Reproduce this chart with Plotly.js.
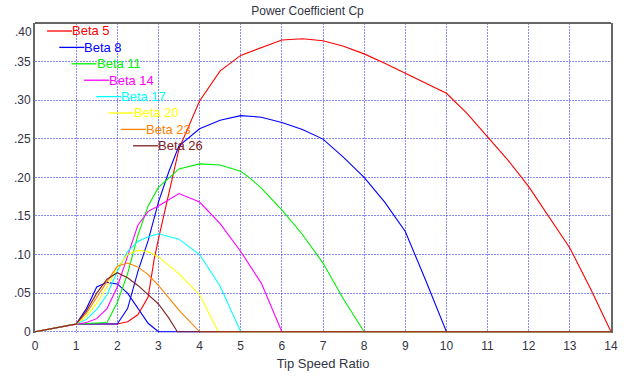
<!DOCTYPE html>
<html>
<head>
<meta charset="utf-8">
<script src="https://cdn.plot.ly/plotly-3.0.1.min.js"></script>
<style>html,body{margin:0;padding:0;background:#fff;}#chart{width:634px;height:376px;}</style>
</head>
<body>
<div id="chart"></div>
<script>
// ---- Data ----
const seriesNames = ["Beta 5", "Beta 8", "Beta 11", "Beta 14", "Beta 17", "Beta 20", "Beta 23", "Beta 26"];
const seriesColors = ["#ff0000", "#0000ff", "#00f000", "#ff00ff", "#00ffff", "#ffff00", "#ff8000", "#802020"];

const tsrBeta5 = [0, 1, 1.5, 2, 2.25, 2.5, 2.75, 2.9, 3, 3.25, 3.5, 4, 4.5, 5, 5.5, 6, 6.5, 7, 7.5, 8, 8.5, 9, 9.5, 10, 10.5, 11, 11.5, 12, 12.5, 13, 13.5, 14];
const cpBeta5  = [0, 0.01, 0.01, 0.01, 0.013, 0.022, 0.045, 0.095, 0.12, 0.178, 0.237, 0.299, 0.338, 0.358, 0.368, 0.378, 0.3795, 0.377, 0.37, 0.36, 0.348, 0.335, 0.322, 0.309, 0.283, 0.252, 0.222, 0.188, 0.148, 0.1085, 0.056, 0];

const tsrBeta8 = [0, 1, 2, 2.25, 2.5, 2.75, 3, 3.25, 3.5, 4, 4.5, 5, 5.5, 6, 6.5, 7, 7.5, 8, 8.5, 9, 9.5, 10, 14];
const cpBeta8  = [0, 0.01, 0.01, 0.03, 0.078, 0.118, 0.168, 0.207, 0.241, 0.263, 0.274, 0.28, 0.278, 0.271, 0.262, 0.2496, 0.226, 0.2, 0.168, 0.13, 0.066, 0, 0];

const tsrBeta11 = [0, 1, 1.75, 2, 2.25, 2.5, 2.75, 3, 3.5, 4, 4.5, 5, 5.25, 5.5, 6, 6.5, 7, 7.5, 8, 14];
const cpBeta11  = [0, 0.01, 0.012, 0.038, 0.075, 0.125, 0.163, 0.187, 0.211, 0.2175, 0.216, 0.208, 0.198, 0.186, 0.158, 0.126, 0.089, 0.042, 0, 0];

const tsrBeta14 = [0, 1, 1.25, 1.5, 1.75, 2, 2.25, 2.5, 2.75, 3, 3.5, 4, 4.5, 5, 5.5, 6, 14];
const cpBeta14  = [0, 0.01, 0.012, 0.017, 0.03, 0.058, 0.097, 0.138, 0.156, 0.163, 0.179, 0.168, 0.14, 0.104, 0.063, 0, 0];

const tsrBeta17 = [0, 1, 1.25, 1.5, 1.75, 2, 2.25, 2.5, 2.75, 3, 3.5, 4, 4.5, 5, 14];
const cpBeta17  = [0, 0.01, 0.016, 0.029, 0.048, 0.078, 0.104, 0.117, 0.123, 0.127, 0.12, 0.1, 0.059, 0, 0];

const tsrBeta20 = [0, 1, 1.25, 1.5, 1.75, 2, 2.25, 2.5, 2.75, 3, 3.5, 4, 4.46, 14];
const cpBeta20  = [0, 0.01, 0.02, 0.037, 0.058, 0.083, 0.1, 0.1055, 0.104, 0.097, 0.075, 0.048, 0, 0];

const tsrBeta23 = [0, 1, 1.25, 1.5, 1.75, 2, 2.25, 2.5, 2.75, 3, 3.5, 4, 14];
const cpBeta23  = [0, 0.01, 0.024, 0.045, 0.065, 0.085, 0.089, 0.084, 0.074, 0.06, 0.028, 0, 0];

const tsrBeta26 = [0, 1, 1.25, 1.5, 1.75, 2, 2.25, 2.5, 2.75, 3, 3.25, 3.46, 14];
const cpBeta26  = [0, 0.01, 0.027, 0.05, 0.068, 0.0765, 0.07, 0.06, 0.048, 0.036, 0.018, 0, 0];

// extra unlabeled blue curve (colour cycle wrap)
const tsrExtra = [0, 1, 1.25, 1.5, 1.75, 2, 2.25, 2.5, 2.75, 3, 14];
const cpExtra  = [0, 0.01, 0.03, 0.058, 0.064, 0.062, 0.05, 0.03, 0.011, 0, 0];

const xTicks = [0, 1, 2, 3, 4, 5, 6, 7, 8, 9, 10, 11, 12, 13, 14];
const yTickVals = [0, 0.05, 0.10, 0.15, 0.20, 0.25, 0.30, 0.35, 0.40];
const yTickText = ["0", ".05", ".10", ".15", ".20", ".25", ".30", ".35", ""];
const yTopLabel = ".40";

const tsrList = [tsrBeta5, tsrBeta8, tsrBeta11, tsrBeta14, tsrBeta17, tsrBeta20, tsrBeta23, tsrBeta26];
const cpList  = [cpBeta5, cpBeta8, cpBeta11, cpBeta14, cpBeta17, cpBeta20, cpBeta23, cpBeta26];

// ---- Traces ----
const traces = [{
  x: tsrExtra, y: cpExtra, type: "scatter", mode: "lines",
  line: {color: "#0000ff", width: 1.1}, showlegend: false, hoverinfo: "skip"
}];
seriesNames.forEach((name, i) => {
  traces.push({
    x: tsrList[i], y: cpList[i], type: "scatter", mode: "lines", name: name,
    line: {color: seriesColors[i], width: 1.1}, showlegend: false
  });
});

// ---- Layout ----
const W = 634, H = 376;
const mL = 35, mR = 23, mT = 23, mB = 43;
const pw = W - mL - mR, ph = H - mT - mB;
const px2paperX = px => (px - mL) / pw;
const px2paperY = py => (H - mB - py) / ph;
const fontFam = "Liberation Sans, Arial, sans-serif";
const textCol = "#333344";

const shapes = [
  {type: "line", xref: "paper", yref: "paper", x0: 0, x1: 1, y0: 1, y1: 1,
   line: {color: "#666666", width: 2}}
];
const annotations = [
  {xref: "paper", yref: "paper", x: px2paperX(32.5), y: px2paperY(31.5), xanchor: "right", yanchor: "middle",
   showarrow: false, text: yTopLabel, borderpad: 0, font: {family: fontFam, size: 12, color: textCol}}
];
seriesNames.forEach((name, i) => {
  const lx0 = 47 + 12.3 * i, lx1 = 72 + 12.3 * i, ly = 31 + 16.4 * i;
  shapes.push({type: "line", xref: "paper", yref: "paper",
    x0: px2paperX(lx0), x1: px2paperX(lx1), y0: px2paperY(ly), y1: px2paperY(ly),
    line: {color: seriesColors[i], width: 1.3}});
  annotations.push({xref: "paper", yref: "paper", x: px2paperX(lx1), y: px2paperY(ly),
    xanchor: "left", yanchor: "middle", showarrow: false, text: name, borderpad: 0, xshift: -1,
    font: {family: fontFam, size: 13, color: seriesColors[i]}});
});

const gridCol = "rgba(60,60,255,0.6)";
const layout = {
  width: W, height: H,
  margin: {l: mL, r: mR, t: mT, b: mB, pad: 0},
  paper_bgcolor: "#ffffff", plot_bgcolor: "#ffffff",
  showlegend: false,
  title: {text: "Power Coefficient Cp", font: {family: fontFam, size: 12, color: textCol},
          x: 0.485, xanchor: "center", xref: "container", y: 1 - 11 / H, yref: "container", yanchor: "middle"},
  xaxis: {
    range: [0, 14], tickvals: xTicks, ticktext: xTicks.map(String),
    showgrid: true, gridcolor: gridCol, griddash: "2px,1px", gridwidth: 1,
    zeroline: false, showline: false, ticks: "", ticklabelstandoff: 4,
    tickfont: {family: fontFam, size: 12, color: textCol},
    title: {text: "Tip Speed Ratio", font: {family: fontFam, size: 13, color: textCol}, standoff: 6},
    automargin: false, fixedrange: true
  },
  yaxis: {
    range: [-0.0016, 0.4], tickvals: yTickVals, ticktext: yTickText,
    showgrid: true, gridcolor: gridCol, griddash: "2px,1px", gridwidth: 1,
    zeroline: false, showline: true, mirror: true, linecolor: "#666666", linewidth: 2, ticks: "",
    tickfont: {family: fontFam, size: 12, color: textCol},
    automargin: false, fixedrange: true
  },
  shapes: shapes,
  annotations: annotations
};

Plotly.newPlot("chart", traces, layout, {displayModeBar: false, staticPlot: true});
</script>
</body>
</html>
